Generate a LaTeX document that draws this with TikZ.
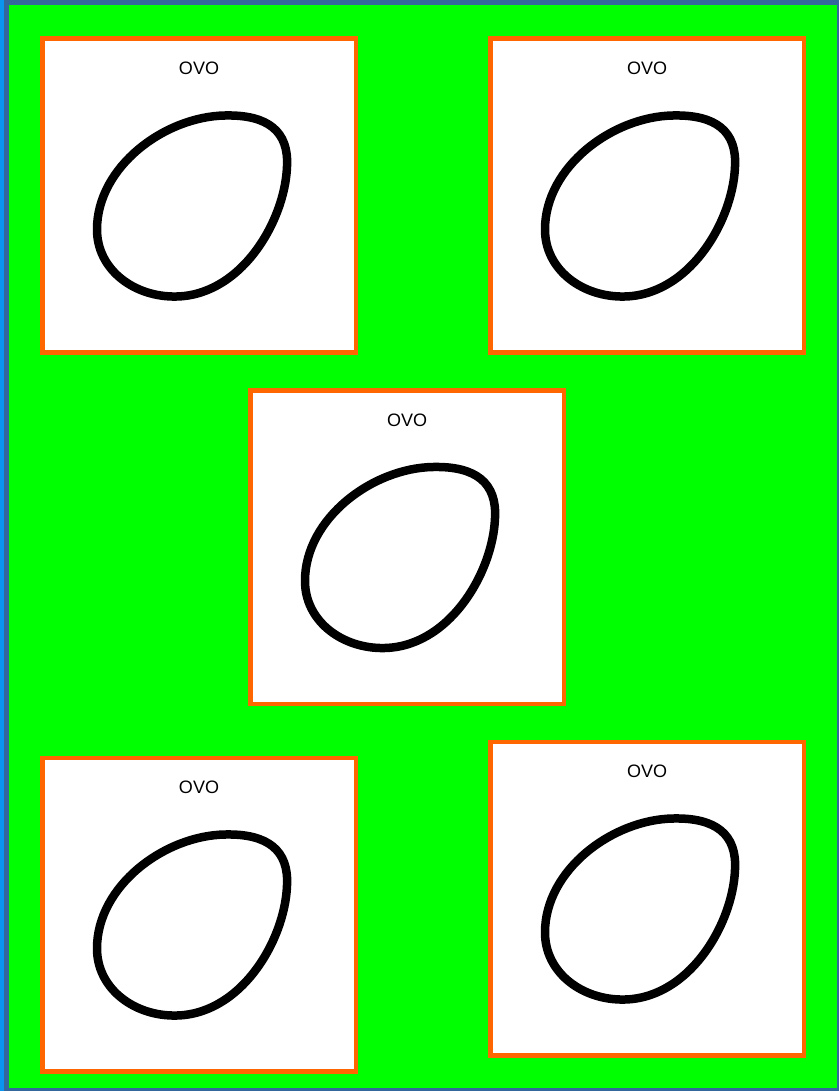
\documentclass[tikz,border=0pt]{standalone}
\usepackage{fontspec}
\setmainfont{Liberation Sans}
\definecolor{bggreen}{HTML}{00FF00}
\definecolor{boxorange}{HTML}{FF6600}
\definecolor{framedark}{HTML}{34679B}
\definecolor{framelight}{HTML}{0A96F0}
\tikzset{
  ovobox/.style={draw=boxorange, fill=white, line width=4.5pt, outer sep=0pt,
    minimum width=313.5pt, minimum height=313.5pt, inner sep=0pt},
  ovolabel/.style={font=\fontsize{18}{21}\selectfont, inner sep=0pt, anchor=center},
  eggline/.style={draw=black, line width=8.5pt, line join=round}
}
\newcommand{\eggat}[1]{%
  \draw[eggline, shift={(#1.north west)}, shift={(-2.25pt,2.25pt)}]
    (185,79) .. controls (228,78) and (249,95) .. (247,130)
    .. controls (245,185) and (200,262) .. (132,260)
    .. controls (92,259) and (57,232) .. (57,193)
    .. controls (57,130) and (125,80) .. (185,79) -- cycle;}
\begin{document}
\begin{tikzpicture}[x=1pt, y=-1pt]
  \useasboundingbox (0,0) rectangle (839,1091);
  \fill[framedark] (0,0) rectangle (839,1091);
  \fill[framelight] (0,0) rectangle (4,1091);
  \fill[bggreen] (9,5) rectangle (837,1088);

  \node[ovobox] (b1) at (199,195.5) {};
  \node[ovobox] (b2) at (647,195.5) {};
  \node[ovobox] (b3) at (407,547) {};
  \node[ovobox] (b4) at (199,914.5) {};
  \node[ovobox] (b5) at (647,898.5) {};

  \foreach \b in {b1,b2,b3,b4,b5} {
    \node[ovolabel] (\b t) at ([yshift=-30pt]\b.north) {OVO};
    \eggat{\b}
  }
\end{tikzpicture}
\end{document}
